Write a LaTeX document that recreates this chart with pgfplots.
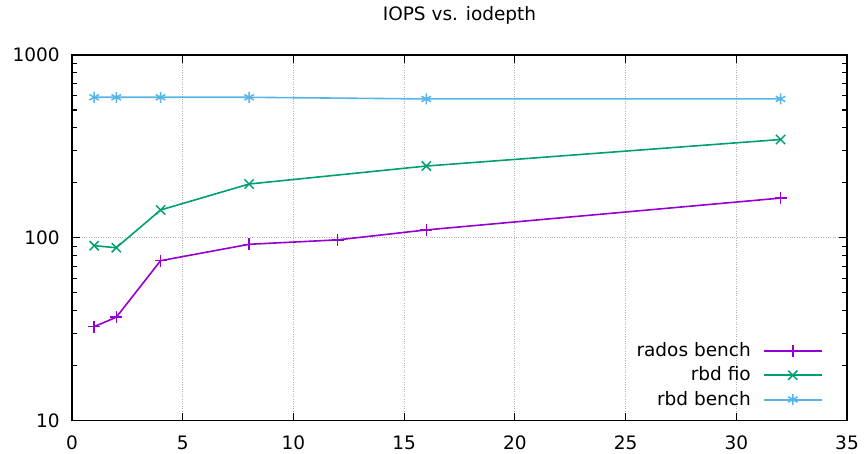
\documentclass[border=0pt]{standalone}
\usepackage{fontspec}
\setmainfont{DejaVu Sans}
\usepackage{pgfplots}
\pgfplotsset{compat=1.18}
\definecolor{c1}{RGB}{148,0,211}
\definecolor{c2}{RGB}{0,158,115}
\definecolor{c3}{RGB}{86,180,233}
\begin{document}
\fontsize{18.5}{22}\selectfont
\begin{tikzpicture}
\useasboundingbox (0,0) rectangle (865pt,454pt);
\begin{axis}[
 at={(72pt,33.3pt)}, anchor=south west,
 width=775pt, height=365.7pt, scale only axis,
 ymode=log, xmin=0, xmax=35, ymin=10, ymax=1000,
 xtick={0,5,...,35}, ytick={10,100,1000}, yticklabels={10,100,1000},
 /pgf/number format/assume math mode=true,
 font=\fontsize{18.5}{22}\selectfont,
 axis line style={line width=1.6pt},
 major tick length=8pt, minor tick length=5pt,
 every tick/.style={black, line width=1.2pt},
 grid=major, major grid style={gray!60, dotted, line width=0.8pt},
 title={IOPS vs. iodepth},
 title style={at={(0.5,1)}, anchor=base, yshift=28pt},
 xticklabel style={anchor=base, yshift=-29pt},
 yticklabel style={xshift=-6pt},
 legend style={at={(0.969,0.22)}, anchor=north east, draw=none, fill=none,
   font=\fontsize{18.5}{22}\selectfont, row sep=3.5pt, column sep=10pt, inner sep=0pt},
 legend cell align=right, legend plot pos=right,
 legend image code/.code={\draw[mark repeat=2,mark phase=2,#1,line width=2pt] plot coordinates {(0pt,0pt)(29pt,0pt)(58pt,0pt)};},
]
\addplot[c1, line width=1.6pt, mark=+, mark size=6pt, mark options={line width=1.5pt}] coordinates {
 (1,32.7)(2,36.8)(4,75)(8,92.2)(12,97.5)(16,110.5)(32,165)};
\addlegendentry{rados bench}
\addplot[c2, line width=1.6pt, mark=x, mark size=6.5pt, mark options={line width=1.5pt}] coordinates {
 (1,90.6)(2,88.3)(4,142)(8,197)(16,247)(32,345)};
\addlegendentry{rbd fio}
\addplot[c3, line width=1.6pt, mark=asterisk, mark size=5.5pt, mark options={line width=1.5pt}] coordinates {
 (1,587)(2,587)(4,587)(8,587)(16,575)(32,575)};
\addlegendentry{rbd bench}
\end{axis}
\end{tikzpicture}
\end{document}
